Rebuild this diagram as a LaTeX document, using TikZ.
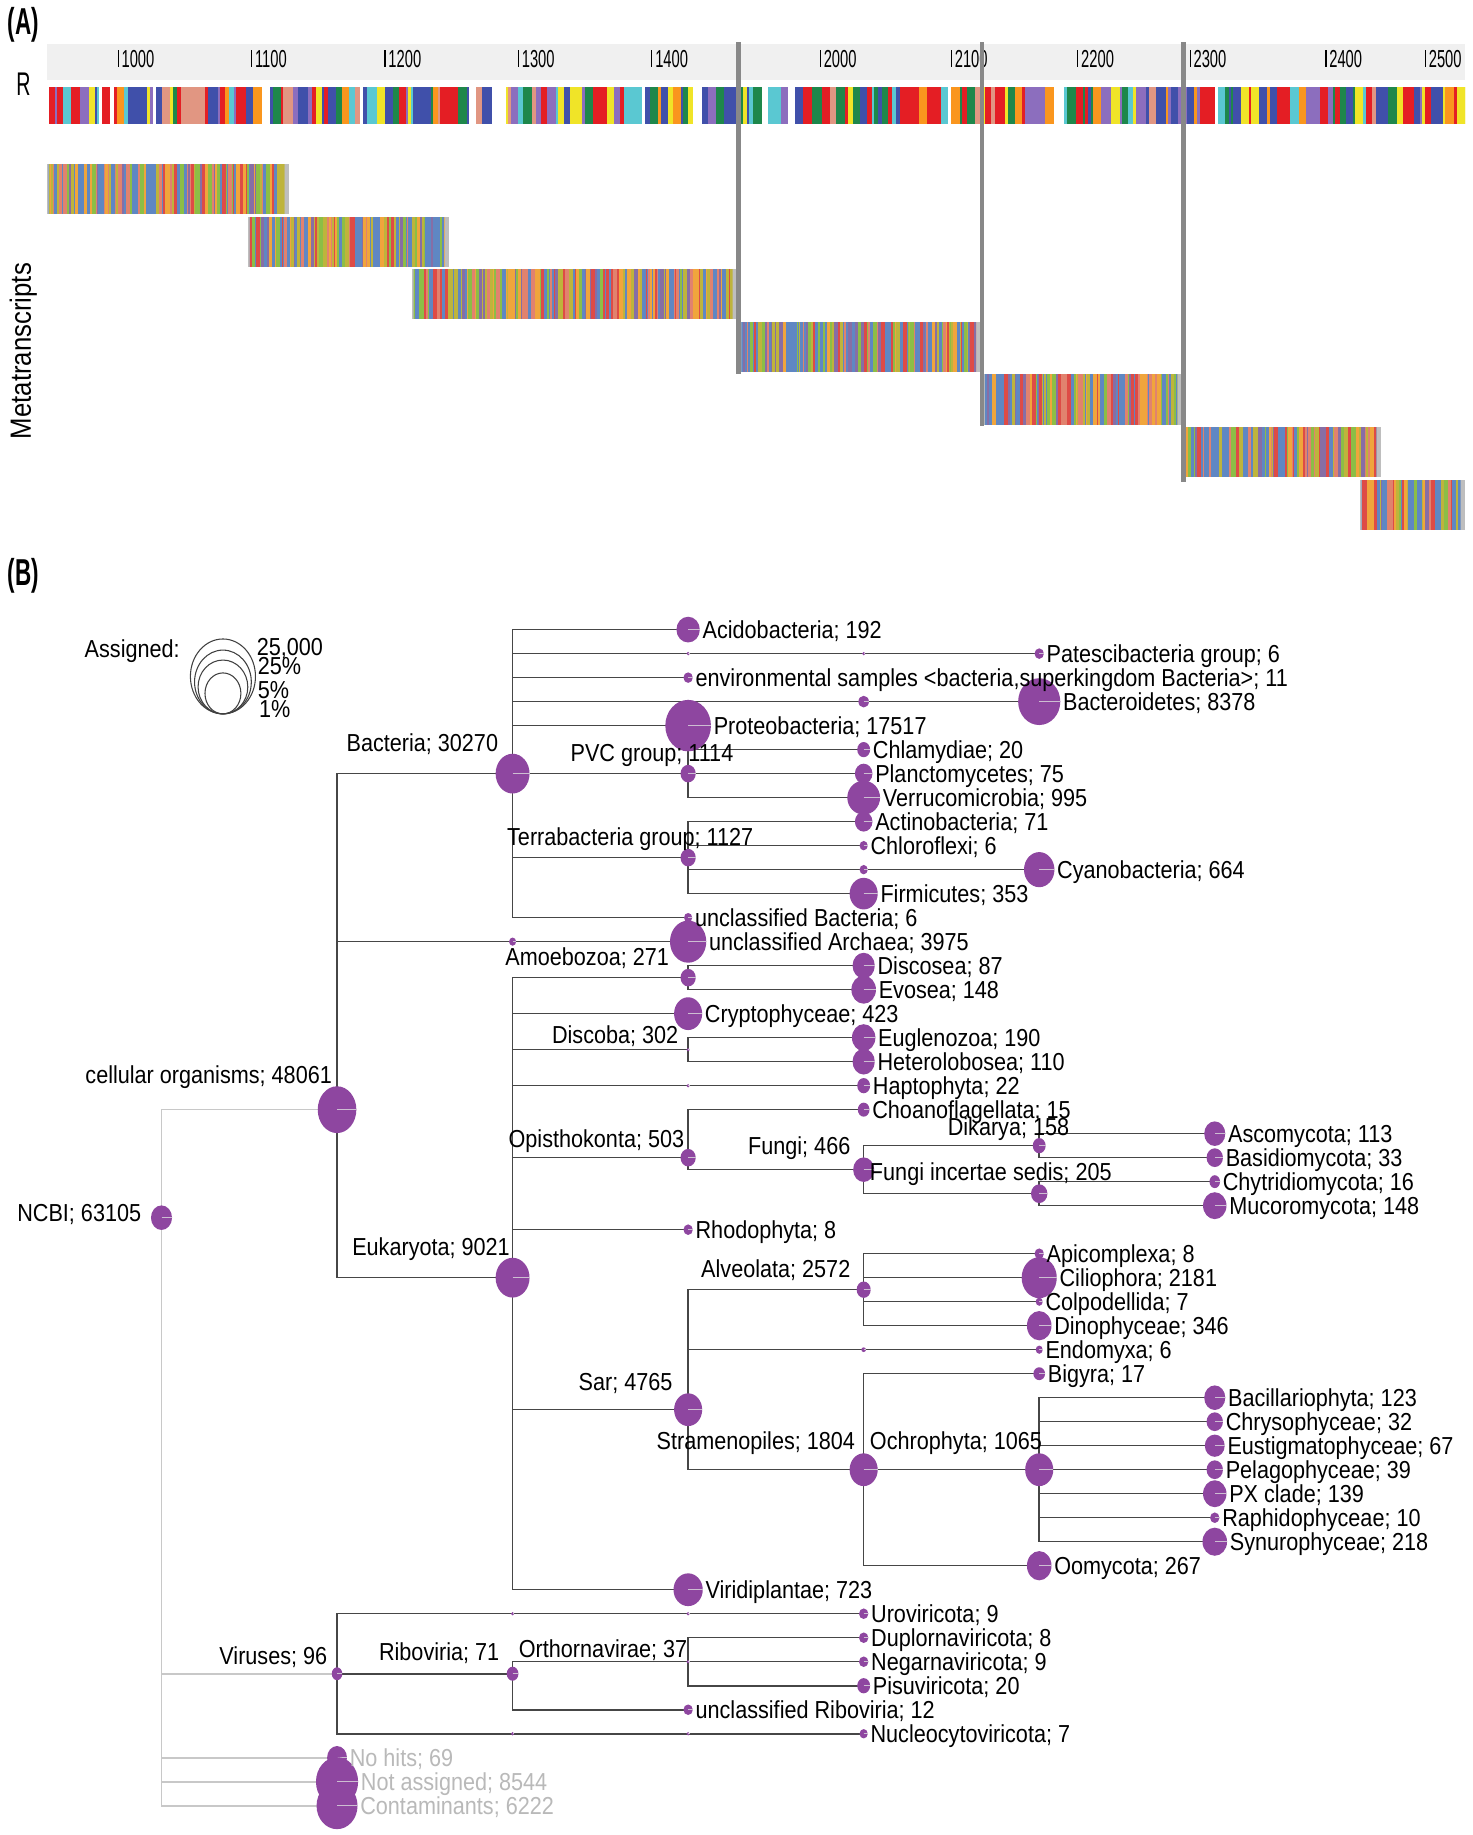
\documentclass[tikz,border=0pt]{standalone}
\usepackage{fontspec}
\setmainfont[FakeStretch=0.88]{Liberation Sans}
\newfontfamily\narrowfont[FakeStretch=0.6]{Liberation Sans}
\usetikzlibrary{shapes.geometric,calc}
\pgfdeclarelayer{bg}
\pgfdeclarelayer{fg}
\pgfsetlayers{bg,main,fg}
\definecolor{nodepurple}{RGB}{142,70,160}
\definecolor{edgedark}{RGB}{70,70,70}
\definecolor{edgelight}{RGB}{200,200,200}
\definecolor{labgrey}{RGB}{185,185,185}
\definecolor{innerline}{RGB}{205,190,210}
\definecolor{rulerbg}{RGB}{240,240,240}
\definecolor{breakgrey}{RGB}{136,136,136}
\definecolor{barend}{RGB}{190,190,190}
% reference bar colours
\definecolor{rc0}{RGB}{64,80,170}
\definecolor{rc1}{RGB}{30,135,75}
\definecolor{rc2}{RGB}{228,30,36}
\definecolor{rc3}{RGB}{90,200,210}
\definecolor{rc4}{RGB}{250,150,30}
\definecolor{rc5}{RGB}{140,110,190}
\definecolor{rc6}{RGB}{64,80,170}
\definecolor{rc7}{RGB}{225,150,130}
\definecolor{rc8}{RGB}{30,135,75}
\definecolor{rc9}{RGB}{255,255,255}
\definecolor{rc10}{RGB}{240,228,40}
\definecolor{rc11}{RGB}{228,30,36}
% metatranscript colours
\definecolor{mc0}{RGB}{222,75,70}
\definecolor{mc1}{RGB}{240,165,60}
\definecolor{mc2}{RGB}{140,190,70}
\definecolor{mc3}{RGB}{95,135,195}
\definecolor{mc4}{RGB}{190,180,60}
\definecolor{mc5}{RGB}{135,110,165}
\definecolor{mc6}{RGB}{225,130,110}
\definecolor{mc7}{RGB}{95,135,195}

\newcommand\txnode[5]{%
  \node[dot, minimum width=#4*0.5pt, minimum height=#5*0.5pt] (#1) at (#2,#3) {};
  \draw[inline] (#1.center) -- (#1.east);}
\newcommand\leaflab[2]{\node[lab, anchor=base west] (#1-l) at ($(#1.east)+(1pt,-3.75pt)$) {#2};}
\newcommand\leafglab[2]{\node[glab, anchor=base west] (#1-l) at ($(#1.east)+(1pt,-3.75pt)$) {#2};}
\newcommand\inlab[5]{\node[lab, anchor=#2] (#1-l) at ($(#1.center)+(#3pt,#4pt)$) {#5};}
\newcommand\mtbar[4]{%
  \fill[barend] (#1,#2) rectangle (#3,#4);
  \begin{scope}
    \clip (#1+1.5,#2) rectangle (#3-4,#4);
    \gdef\xx{#1}
    \foreach \i in {1,...,170}{
      \pgfmathrandominteger{\cc}{0}{7}
      \pgfmathrandominteger{\ww}{1}{3}
      \fill[mc\cc] (\xx,#2) rectangle ({\xx+\ww+0.2},#4);
      \pgfmathsetmacro\xn{\xx+\ww}
      \xdef\xx{\xn}
    }
  \end{scope}}

\begin{document}
\begin{tikzpicture}[x=0.5pt,y=-0.5pt,
  dot/.style={ellipse, fill=nodepurple, draw=none, inner sep=0pt, outer sep=0pt},
  inline/.style={draw=innerline, line width=0.4pt},
  lab/.style={font=\fontsize{10.5}{12}\selectfont, inner sep=0pt, text=black},
  glab/.style={lab, text=labgrey},
  edge/.style={draw=edgedark, line width=0.65pt},
  ledge/.style={draw=edgelight, line width=0.65pt},
  panellab/.style={font=\narrowfont\bfseries\fontsize{16}{18}\selectfont, inner sep=0pt},
  ticklab/.style={font=\narrowfont\fontsize{10.5}{12}\selectfont, inner sep=0pt},
  tickline/.style={draw=black, line width=0.5pt},
  breakline/.style={draw=breakgrey, line width=2pt},
  legring/.style={ellipse, draw=black!75, line width=0.45pt, inner sep=0pt, fill=none}]
\useasboundingbox (0,0) rectangle (1258,1568);
\begin{pgfonlayer}{bg}
\fill[white] (0,0) rectangle (1258,1568);
\end{pgfonlayer}

% ================= Panel A =================
\node[panellab] (pa) at (20,21) {(A)};
\fill[rulerbg] (40,38) rectangle (1252,68);
\foreach \x/\lbl in {101/1000,215/1100,329/1200,443/1300,557/1400,701/2000,813/2100,921/2200,1017/2300,1133/2400,1218/2500}{
  \draw[tickline] (\x,43) -- (\x,57.5);
  \node[ticklab, anchor=base west] (t\lbl) at (\x+2.5,57.5) {\lbl};
}
\node[font=\narrowfont\fontsize{14}{16}\selectfont, inner sep=0pt] (rlab) at (20,72) {R};

\pgfmathsetseed{17}
\begin{scope}
  \clip (40,74) rectangle (1252,106);
  \gdef\xx{40}
  \foreach \i in {1,...,320}{
    \pgfmathrandominteger{\cc}{0}{11}
    \pgfmathrandominteger{\ww}{2}{8}
    \fill[rc\cc] (\xx,74) rectangle ({\xx+\ww+0.3},106);
    \pgfmathsetmacro\xn{\xx+\ww}
    \xdef\xx{\xn}
  }
\end{scope}

\node[font=\fontsize{12.5}{14}\selectfont, inner sep=0pt, rotate=90] (meta) at (20,300) {Metatranscripts};

\mtbar{40}{140}{247}{183}
\mtbar{212}{185}{384}{228}
\mtbar{352}{230}{630}{273}
\mtbar{632}{275}{838}{318}
\mtbar{840}{320}{1010}{363}
\mtbar{1012}{365}{1180}{408}
\mtbar{1162}{410}{1252}{453}

\draw[breakline] (631,36) -- (631,320);
\draw[breakline] (839,36) -- (839,364);
\draw[breakline] (1011,36) -- (1011,412);

% ================= Panel B =================
\node[panellab] (pb) at (20,492) {(B)};
\node[lab, anchor=base west] (assigned) at (72,562) {Assigned:};
\node[legring, minimum width=55.6*0.5pt, minimum height=64*0.5pt] (e1) at (190.5,578) {};
\node[legring, minimum width=48.5*0.5pt, minimum height=54.5*0.5pt] (e2) at (190.5,582.75) {};
\node[legring, minimum width=42.5*0.5pt, minimum height=46*0.5pt] (e3) at (190.5,587) {};
\node[legring, minimum width=30.7*0.5pt, minimum height=35*0.5pt] (e4) at (190.5,592.5) {};
\node[lab, anchor=base west] (leg1) at (219,560) {25,000};
\node[lab, anchor=base west] (leg2) at (220,576) {25\%};
\node[lab, anchor=base west] (leg3) at (220,596.5) {5\%};
\node[lab, anchor=base west] (leg4) at (221,613) {1\%};

\begin{scope}[y=-10.255pt, yshift=-258.745pt]
% ---- nodes ----
\txnode{ncbi}{138}{25.5}{18}{21}
\txnode{cell}{288}{21}{33}{40}
\txnode{vir}{288}{44.5}{9}{11}
\txnode{nohits}{288}{48}{17}{20}
\txnode{notass}{288}{49}{36}{42}
\txnode{contam}{288}{50}{35}{40}
\txnode{bac}{438}{7}{29}{34}
\txnode{parch}{438}{14}{6}{7}
\txnode{euk}{438}{28}{29}{34}
\txnode{uro1}{438}{42}{3}{3}
\txnode{ribo}{438}{44.5}{10}{12}
\txnode{nuc1}{438}{47}{3}{3}
\txnode{acido}{588}{1}{20}{22}
\txnode{pat1}{588}{2}{3}{3}
\txnode{env}{588}{3}{8}{9}
\txnode{bdt1}{588}{4}{3}{3}
\txnode{proteo}{588}{5}{39}{44}
\txnode{pvc}{588}{7}{13}{15}
\txnode{terra}{588}{10.5}{13}{15}
\txnode{unbac}{588}{13}{7}{8}
\txnode{archaea}{588}{14}{31}{36}
\txnode{amoeb}{588}{15.5}{13}{15}
\txnode{crypto}{588}{17}{24}{28}
\txnode{disc}{588}{18.5}{3}{3}
\txnode{hap1}{588}{20}{3}{3}
\txnode{opis}{588}{23}{13}{15}
\txnode{rhodo}{588}{26}{8}{9}
\txnode{sar}{588}{33.5}{24}{28}
\txnode{virid}{588}{41}{25}{28}
\txnode{uro2}{588}{42}{3}{3}
\txnode{orth}{588}{44}{3}{3}
\txnode{unribo}{588}{46}{8}{9}
\txnode{nuc2}{588}{47}{3}{3}
\txnode{pat2}{738}{2}{3}{3}
\txnode{bdt2}{738}{4}{9}{10}
\txnode{chlam}{738}{6}{11}{13}
\txnode{planc}{738}{7}{15}{17}
\txnode{verruc}{738}{8}{28}{29}
\txnode{actino}{738}{9}{15}{17}
\txnode{chloro}{738}{10}{7}{8}
\txnode{cya1}{738}{11}{7}{8}
\txnode{firmi}{738}{12}{24}{27}
\txnode{discosea}{738}{15}{19}{22}
\txnode{evosea}{738}{16}{21}{24}
\txnode{eugl}{738}{18}{20}{23}
\txnode{hetero}{738}{19}{19}{22}
\txnode{hapto}{738}{20}{11}{13}
\txnode{choano}{738}{21}{10}{12}
\txnode{fungi}{738}{23.5}{18}{21}
\txnode{alv}{738}{28.5}{12}{14}
\txnode{endo1}{738}{31}{4}{4}
\txnode{stram}{738}{36}{24}{28}
\txnode{uro}{738}{42}{8}{9}
\txnode{duplo}{738}{43}{8}{9}
\txnode{negarna}{738}{44}{8}{9}
\txnode{pisu}{738}{45}{11}{13}
\txnode{nucleo}{738}{47}{7}{8}
\txnode{pates}{888}{2}{8}{9}
\txnode{bacteroid}{888}{4}{36}{40}
\txnode{cyano}{888}{11}{26}{30}
\txnode{dik}{888}{22.5}{11}{13}
\txnode{fis}{888}{24.5}{14}{16}
\txnode{apico}{888}{27}{8}{9}
\txnode{cilio}{888}{28}{30}{35}
\txnode{colpo}{888}{29}{6}{7}
\txnode{dino}{888}{30}{21}{25}
\txnode{endomyxa}{888}{31}{6}{7}
\txnode{bigyra}{888}{32}{10}{11}
\txnode{ochro}{888}{36}{24}{28}
\txnode{oomy}{888}{40}{21}{25}
\txnode{asco}{1038}{22}{18}{21}
\txnode{basidio}{1038}{23}{14}{16}
\txnode{chytri}{1038}{24}{9}{11}
\txnode{mucoro}{1038}{25}{20}{23}
\txnode{bacill}{1038}{33}{18}{21}
\txnode{chryso}{1038}{34}{14}{16}
\txnode{eustig}{1038}{35}{17}{19}
\txnode{pelago}{1038}{36}{14}{16}
\txnode{pxc}{1038}{37}{20}{23}
\txnode{raphido}{1038}{38}{8}{9}
\txnode{synuro}{1038}{39}{21}{24}

% ---- edges ----
\begin{pgfonlayer}{bg}
\foreach \c in {cell,vir,nohits,notass,contam}{\draw[ledge] (ncbi.center) |- (\c.center);}
\foreach \p/\c in {cell/bac,cell/parch,cell/euk,parch/archaea,
  bac/acido,bac/pat1,bac/env,bac/bdt1,bac/proteo,bac/pvc,bac/terra,bac/unbac,
  pat1/pat2,pat2/pates,bdt1/bdt2,bdt2/bacteroid,
  pvc/chlam,pvc/planc,pvc/verruc,
  terra/actino,terra/chloro,terra/cya1,terra/firmi,cya1/cyano,
  euk/amoeb,euk/crypto,euk/disc,euk/hap1,euk/opis,euk/rhodo,euk/sar,euk/virid,
  amoeb/discosea,amoeb/evosea,disc/eugl,disc/hetero,hap1/hapto,
  opis/choano,opis/fungi,fungi/dik,fungi/fis,dik/asco,dik/basidio,fis/chytri,fis/mucoro,
  sar/alv,sar/endo1,sar/stram,endo1/endomyxa,
  alv/apico,alv/cilio,alv/colpo,alv/dino,
  stram/bigyra,stram/ochro,stram/oomy,
  ochro/bacill,ochro/chryso,ochro/eustig,ochro/pelago,ochro/pxc,ochro/raphido,ochro/synuro,
  vir/uro1,vir/ribo,vir/nuc1,uro1/uro2,uro2/uro,nuc1/nuc2,nuc2/nucleo,
  ribo/orth,ribo/unribo,orth/duplo,orth/negarna,orth/pisu}{
  \draw[edge] (\p.center) |- (\c.center);}
\end{pgfonlayer}

% ---- labels ----
\begin{pgfonlayer}{fg}
\leaflab{acido}{Acidobacteria; 192}
\leaflab{pates}{Patescibacteria group; 6}
\leaflab{env}{environmental samples <bacteria,superkingdom Bacteria>; 11}
\leaflab{bacteroid}{Bacteroidetes; 8378}
\leaflab{proteo}{Proteobacteria; 17517}
\leaflab{chlam}{Chlamydiae; 20}
\leaflab{planc}{Planctomycetes; 75}
\leaflab{verruc}{Verrucomicrobia; 995}
\leaflab{actino}{Actinobacteria; 71}
\leaflab{chloro}{Chloroflexi; 6}
\leaflab{cyano}{Cyanobacteria; 664}
\leaflab{firmi}{Firmicutes; 353}
\leaflab{unbac}{unclassified Bacteria; 6}
\leaflab{archaea}{unclassified Archaea; 3975}
\leaflab{discosea}{Discosea; 87}
\leaflab{evosea}{Evosea; 148}
\leaflab{crypto}{Cryptophyceae; 423}
\leaflab{eugl}{Euglenozoa; 190}
\leaflab{hetero}{Heterolobosea; 110}
\leaflab{hapto}{Haptophyta; 22}
\leaflab{choano}{Choanoflagellata; 15}
\leaflab{asco}{Ascomycota; 113}
\leaflab{basidio}{Basidiomycota; 33}
\leaflab{chytri}{Chytridiomycota; 16}
\leaflab{mucoro}{Mucoromycota; 148}
\leaflab{rhodo}{Rhodophyta; 8}
\leaflab{apico}{Apicomplexa; 8}
\leaflab{cilio}{Ciliophora; 2181}
\leaflab{colpo}{Colpodellida; 7}
\leaflab{dino}{Dinophyceae; 346}
\leaflab{endomyxa}{Endomyxa; 6}
\leaflab{bigyra}{Bigyra; 17}
\leaflab{bacill}{Bacillariophyta; 123}
\leaflab{chryso}{Chrysophyceae; 32}
\leaflab{eustig}{Eustigmatophyceae; 67}
\leaflab{pelago}{Pelagophyceae; 39}
\leaflab{pxc}{PX clade; 139}
\leaflab{raphido}{Raphidophyceae; 10}
\leaflab{synuro}{Synurophyceae; 218}
\leaflab{oomy}{Oomycota; 267}
\leaflab{virid}{Viridiplantae; 723}
\leaflab{uro}{Uroviricota; 9}
\leaflab{duplo}{Duplornaviricota; 8}
\leaflab{negarna}{Negarnaviricota; 9}
\leaflab{pisu}{Pisuviricota; 20}
\leaflab{unribo}{unclassified Riboviria; 12}
\leaflab{nucleo}{Nucleocytoviricota; 7}
\leafglab{nohits}{No hits; 69}
\leafglab{notass}{Not assigned; 8544}
\leafglab{contam}{Contaminants; 6222}

\inlab{ncbi}{base east}{-8.5}{-1.5}{NCBI; 63105}
\inlab{cell}{base east}{-2}{11}{cellular organisms; 48061}
\inlab{bac}{base east}{-6}{9.5}{Bacteria; 30270}
\inlab{pvc}{base east}{19.5}{5}{PVC group; 1114}
\inlab{terra}{base east}{28}{5}{Terrabacteria group; 1127}
\inlab{amoeb}{base east}{-8}{5}{Amoebozoa; 271}
\inlab{disc}{base east}{-4}{2.5}{Discoba; 302}
\inlab{opis}{base east}{-1.5}{4.5}{Opisthokonta; 503}
\inlab{fungi}{base east}{-5.5}{6.5}{Fungi; 466}
\inlab{dik}{base east}{13}{4.25}{Dikarya; 158}
\inlab{fis}{base west}{-72.5}{5.75}{Fungi incertae sedis; 205}
\inlab{euk}{base east}{-1}{9.5}{Eukaryota; 9021}
\inlab{alv}{base east}{-5.5}{5}{Alveolata; 2572}
\inlab{sar}{base east}{-6.5}{8}{Sar; 4765}
\inlab{stram}{base east}{-3.5}{8.5}{Stramenopiles; 1804}
\inlab{ochro}{base west}{-72.5}{8.5}{Ochrophyta; 1065}
\inlab{vir}{base east}{-4}{4}{Viruses; 96}
\inlab{ribo}{base east}{-5.5}{5.5}{Riboviria; 71}
\inlab{orth}{base west}{-72.5}{2}{Orthornavirae; 37}
\end{pgfonlayer}
\end{scope}
\end{tikzpicture}
\end{document}
